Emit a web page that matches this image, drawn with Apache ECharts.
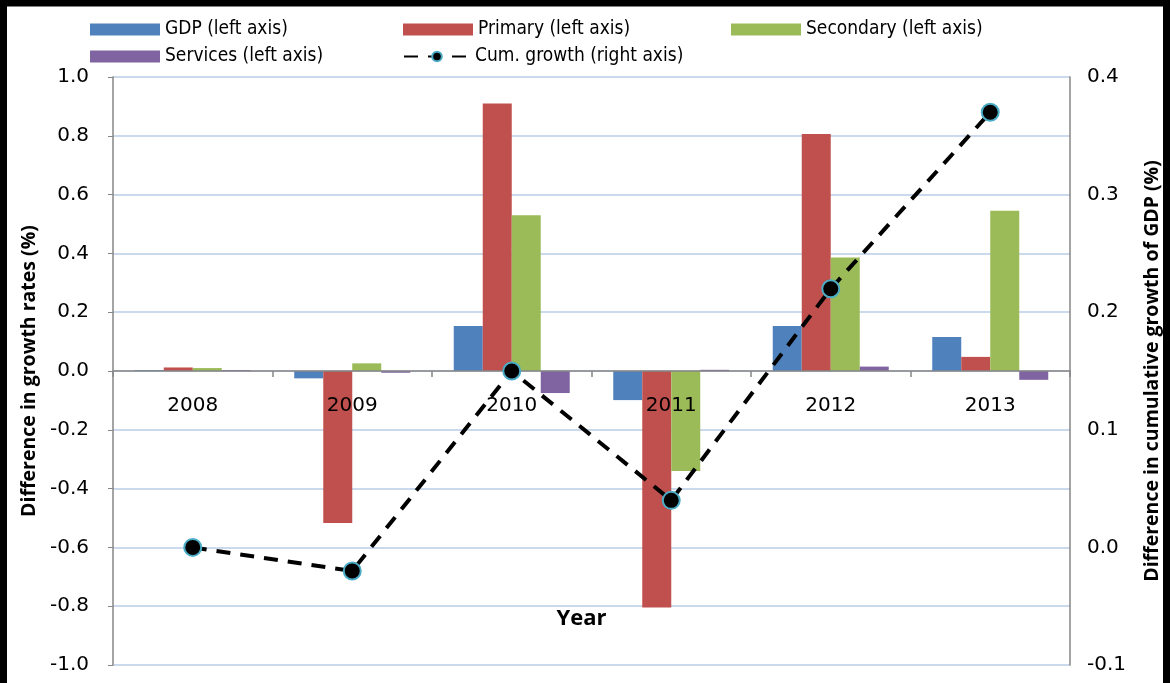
<!DOCTYPE html>
<html>
<head>
<meta charset="utf-8">
<script src="https://cdn.jsdelivr.net/npm/echarts@6/dist/echarts.min.js"></script>
<style>
html,body{margin:0;padding:0;background:#fff;}
#chart{width:1170px;height:683px;}
</style>
</head>
<body>
<div id="chart"></div>
<script>
var years = ['2008', '2009', '2010', '2011', '2012', '2013'];
var gdp = [0.003, -0.025, 0.153, -0.099, 0.153, 0.116];
var primary = [0.012, -0.517, 0.91, -0.804, 0.806, 0.048];
var secondary = [0.010, 0.026, 0.530, -0.340, 0.386, 0.545];
var services = [0.003, -0.006, -0.075, 0.004, 0.015, -0.030];
var cumGrowth = [0.0, -0.02, 0.15, 0.04, 0.22, 0.37];
var leftTicks = { min: -1.0, max: 1.0, interval: 0.2 };
var rightTicks = { min: -0.1, max: 0.4, interval: 0.1 };

var names = ['GDP (left axis)', 'Primary (left axis)', 'Secondary (left axis)', 'Services (left axis)', 'Cum. growth (right axis)'];
var colors = ['#4F81BD', '#C0504D', '#9BBB59', '#8064A2'];
var legendFont = "'Liberation Sans Narrow', 'DejaVu Sans Condensed', 'Liberation Sans', sans-serif";
var mainFont = "'DejaVu Sans', sans-serif";
var boldFont = "'Open Sans', 'DejaVu Sans', sans-serif";

function legendItem(name, left, top, isLine) {
  return {
    data: [isLine ? name : { name: name, icon: 'rect' }], left: left, top: top, orient: 'horizontal',
    itemWidth: isLine ? 66 : 70, itemHeight: 12, itemGap: 6, padding: 0,
    selectedMode: false,
    textStyle: { fontFamily: legendFont, fontSize: 19, color: '#000' }
  };
}

var gridTop = 77, gridBottom = 18, chartH = 683;
var plotH = chartH - gridTop - gridBottom;
// shift x axis from the grid bottom up to the zero line of the left axis
var zeroOffset = -plotH * (0 - leftTicks.min) / (leftTicks.max - leftTicks.min);

var chart = echarts.init(document.getElementById('chart'));
var barSeries = [gdp, primary, secondary, services].map(function (arr, i) {
  return {
    name: names[i], type: 'bar', data: arr, barWidth: 29, barGap: '0%',
    itemStyle: { color: colors[i] }, z: 2
  };
});
var option = {
  animation: false,
  textStyle: { fontFamily: mainFont },
  graphic: [{
    type: 'rect', shape: { x: 3.5, y: 3, width: 1163, height: 720 },
    style: { fill: 'none', stroke: '#000', lineWidth: 7 }, z: 100, silent: true
  }],
  legend: [
    legendItem(names[0], 90, 20),
    legendItem(names[1], 403, 20),
    legendItem(names[2], 731, 20),
    legendItem(names[3], 90, 47),
    legendItem(names[4], 403, 47, true)
  ],
  grid: { left: 113, right: 100, top: gridTop, bottom: gridBottom, outerBoundsMode: 'none', containLabel: false },
  xAxis: {
    type: 'category', data: years, z: 3, position: 'bottom', offset: zeroOffset,
    name: 'Year', nameLocation: 'middle', nameGap: 237,
    nameTextStyle: { fontFamily: boldFont, fontWeight: 'bold', fontSize: 22, color: '#000', padding: [0, 20, 0, 0] },
    axisLine: { onZero: false, lineStyle: { color: '#868686', width: 1.5 } },
    axisTick: { show: true, length: 6, lineStyle: { color: '#868686', width: 1.5 } },
    axisLabel: { fontFamily: mainFont, fontSize: 20, color: '#000', margin: 25 },
    splitLine: { show: false }
  },
  yAxis: [{
    type: 'value', min: leftTicks.min, max: leftTicks.max, interval: leftTicks.interval,
    name: 'Difference in growth rates (%)', nameLocation: 'middle', nameGap: 73, nameRotate: 90,
    nameTextStyle: { fontFamily: boldFont, fontWeight: 'bold', fontSize: 19.5, color: '#000' },
    axisLine: { show: true, lineStyle: { color: '#868686', width: 1.5 } },
    axisTick: { show: true, length: 5, lineStyle: { color: '#868686' } },
    axisLabel: { fontFamily: mainFont, fontSize: 20, color: '#000', margin: 24,
      formatter: function (v) { return (Math.abs(v) < 1e-9 ? 0 : v).toFixed(1); } },
    splitLine: { show: true, lineStyle: { color: '#B9CDE5', width: 1.5 } }
  }, {
    type: 'value', min: rightTicks.min, max: rightTicks.max, interval: rightTicks.interval,
    name: 'Difference in cumulative growth of GDP (%)', nameLocation: 'middle', nameGap: 72, nameRotate: 90,
    nameTextStyle: { fontFamily: boldFont, fontWeight: 'bold', fontSize: 19.5, color: '#000' },
    axisLine: { show: true, lineStyle: { color: '#868686', width: 1.5 } },
    axisTick: { show: false },
    axisLabel: { fontFamily: mainFont, fontSize: 20, color: '#000', margin: 17,
      formatter: function (v) { return (Math.abs(v) < 1e-9 ? 0 : v).toFixed(1); } },
    splitLine: { show: false }
  }],
  series: barSeries.concat([{
    name: names[4], type: 'line', yAxisIndex: 1, data: cumGrowth, z: 5,
    symbol: 'circle', symbolSize: 17,
    lineStyle: { color: '#000', width: 4, type: [14, 10] },
    itemStyle: { color: '#000', borderColor: '#4BACC6', borderWidth: 2 }
  }])
};
chart.setOption(option);
</script>
</body>
</html>
